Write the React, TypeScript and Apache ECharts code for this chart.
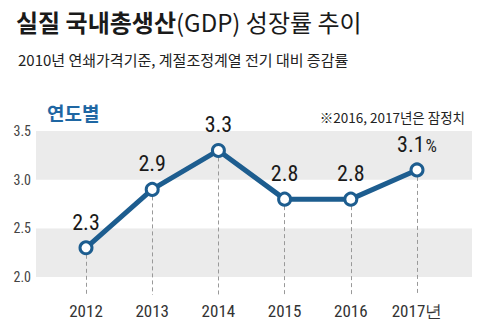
import React, { useEffect, useRef } from "react";
import * as echarts from "echarts";

const yearLabels = ["2012", "2013", "2014", "2015", "2016", "2017년"];
const growth = [2.3, 2.9, 3.3, 2.8, 2.8, 3.1];
const valueLabels = ["2.3", "2.9", "3.3", "2.8", "2.8", "3.1"];
const yTicks = [2.0, 2.5, 3.0, 3.5];

const KR = "'Noto Sans CJK KR', 'Noto Sans', sans-serif";
const NUM = "'Liberation Sans Narrow', 'Roboto Condensed', 'Liberation Sans', Arial, sans-serif";
const BLUE = "#1d5d8f";

export default function App() {
  const ref = useRef<HTMLDivElement>(null);
  useEffect(() => {
    document.body.style.margin = "0";
    const chart = echarts.init(ref.current!, null, { renderer: "svg" });
    const yMin = yTicks[0];
    const yMax = yTicks[yTicks.length - 1];
    const dropBottom = 1.815;
    chart.setOption({
      animation: false,
      backgroundColor: "#ffffff",
      title: [
        {
          left: 11,
          top: 4,
          text: "{b|실질 국내총생산}{r|(GDP) 성장률 추이}",
          textStyle: {
            rich: {
              b: { fontFamily: KR, fontSize: 24, fontWeight: "bold", color: "#1a1a1a" },
              r: { fontFamily: KR, fontSize: 24, fontWeight: "normal", color: "#1a1a1a" },
            },
          },
        },
        {
          left: 13,
          top: 47,
          text: "2010년 연쇄가격기준, 계절조정계열 전기 대비 증감률",
          textStyle: { fontFamily: KR, fontSize: 15, fontWeight: "normal", color: "#222" },
        },
        {
          left: 42,
          top: 98,
          text: "연도별",
          textStyle: { fontFamily: KR, fontSize: 19, fontWeight: "bold", color: "#1f67a3" },
        },
        {
          right: 11,
          top: 105,
          text: "※2016, 2017년은 잠정치",
          textStyle: { fontFamily: KR, fontSize: 13.5, fontWeight: "normal", color: "#222" },
        },
      ],
      grid: [
        { left: 36, right: 9, top: 131, height: 146 },
        { left: 86, right: 64, top: 131, height: 164 },
      ],
      xAxis: [
        { gridIndex: 0, type: "value", show: false, min: 0, max: 1 },
        {
          gridIndex: 1,
          type: "category",
          data: yearLabels,
          boundaryGap: false,
          axisLine: { show: false },
          axisTick: { show: false },
          axisLabel: {
            margin: 7,
            fontFamily: NUM,
            fontSize: 17,
            color: "#333",
            interval: 0,
          },
        },
      ],
      yAxis: [
        {
          gridIndex: 0,
          type: "value",
          min: yMin,
          max: yMax,
          interval: 0.5,
          axisLine: { show: false },
          axisTick: { show: false },
          splitLine: { show: false },
          splitArea: { show: true, areaStyle: { color: ["#ebebeb", "#ffffff"] } },
          axisLabel: {
            margin: 5,
            fontFamily: NUM,
            fontSize: 14,
            color: "#444",
            formatter: (v: number) => v.toFixed(1),
          },
        },
        {
          gridIndex: 1,
          type: "value",
          min: dropBottom,
          max: yMax,
          show: false,
        },
      ],
      series: [
        {
          type: "line",
          xAxisIndex: 1,
          yAxisIndex: 1,
          data: growth,
          clip: false,
          z: 5,
          lineStyle: { color: BLUE, width: 5 },
          itemStyle: { color: "#ffffff", borderColor: BLUE, borderWidth: 3 },
          symbol: "circle",
          symbolSize: 12,
          label: {
            show: true,
            position: "top",
            distance: 7,
            formatter: (p: any) =>
              p.dataIndex === growth.length - 1
                ? `{n|${valueLabels[p.dataIndex]}}{p|%}`
                : `{n|${valueLabels[p.dataIndex]}}`,
            rich: {
              n: { fontFamily: NUM, fontSize: 22, color: "#1a1a1a" },
              p: { fontFamily: NUM, fontSize: 18, color: "#222", verticalAlign: "bottom", padding: [0, 0, 1, 1] },
            },
          },
          markLine: {
            silent: true,
            symbol: "none",
            label: { show: false },
            lineStyle: { color: "#999", width: 1, type: [4, 3] },
            z: 1,
            data: growth.map((v, i) => [
              { coord: [i, v] },
              { coord: [i, dropBottom] },
            ]),
          },
        },
      ],
    });
    return () => chart.dispose();
  }, []);
  return <div ref={ref} style={{ width: 481, height: 334 }} />;
}
